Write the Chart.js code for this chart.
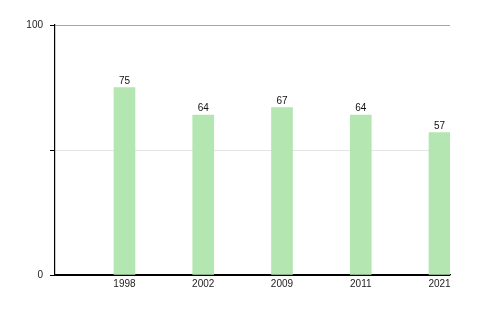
<!DOCTYPE html>
<html>
<head>
<meta charset="utf-8">
<script src="https://cdn.jsdelivr.net/npm/chart.js@4"></script>
<style>
  html, body { margin: 0; padding: 0; background: #fff; }
  #wrap { width: 500px; height: 310px; }
</style>
</head>
<body>
<div id="wrap"><canvas id="myChart" width="500" height="310"></canvas></div>
<script>
const years = ['1998', '2002', '2009', '2011', '2021'];
const values = [75, 64, 67, 64, 57];
const yTicks = [0, 50, 100];
const yLabels = ['0', '', '100'];

const ctx = document.getElementById('myChart').getContext('2d');

// draws the number above each bar
const barValues = {
  id: 'barValues',
  afterDatasetsDraw(chart) {
    const c = chart.ctx;
    const meta = chart.getDatasetMeta(0);
    c.save();
    c.font = '10px "Liberation Sans", Arial, sans-serif';
    c.fillStyle = '#111';
    c.textAlign = 'center';
    c.textBaseline = 'alphabetic';
    meta.data.forEach((bar, i) => {
      c.fillText(String(values[i]), bar.x, bar.y - 4);
    });
    c.restore();
  }
};

new Chart(ctx, {
  type: 'bar',
  data: {
    datasets: [{
      data: values.map((v, i) => ({ x: i + 1, y: v })),
      backgroundColor: '#b3e6b1',
      borderWidth: 0,
      barThickness: 21,
    }],
  },
  options: {
    responsive: false,
    animation: false,
    devicePixelRatio: 1,
    layout: { padding: { top: 25, right: 50, left: 0, bottom: 0 } },
    plugins: {
      legend: { display: false },
      tooltip: { enabled: false },
      title: { display: false },
    },
    scales: {
      x: {
        type: 'linear',
        offset: false,
        min: 0.118,
        max: 5.133,
        afterBuildTicks: scale => {
          scale.ticks = years.map((y, i) => ({ value: i + 1 }));
        },
        afterFit: scale => { scale.height = 35; },
        grid: { display: false, drawTicks: false },
        border: { display: true, color: '#000', width: 1.2 },
        ticks: {
          padding: 3,
          color: '#222',
          maxRotation: 0,
          font: { family: '"Liberation Sans", Arial, sans-serif', size: 10 },
          callback: v => years[v - 1],
        },
      },
      y: {
        min: 0,
        max: 100,
        afterBuildTicks: scale => {
          scale.ticks = yTicks.map(v => ({ value: v }));
        },
        afterFit: scale => { scale.width = 55; },
        grid: {
          color: c => (c.tick && c.tick.value === 100 ? '#a6a6a6' : c.tick && c.tick.value === 0 ? '#000' : '#e4e4e4'),
          tickColor: '#000',
          tickLength: 5,
        },
        border: { display: true, color: '#000', width: 1.2 },
        ticks: {
          padding: 7,
          color: '#222',
          font: { family: '"Liberation Sans", Arial, sans-serif', size: 10 },
          callback: v => yLabels[yTicks.indexOf(v)],
        },
      },
    },
  },
  plugins: [barValues],
});
</script>
</body>
</html>
